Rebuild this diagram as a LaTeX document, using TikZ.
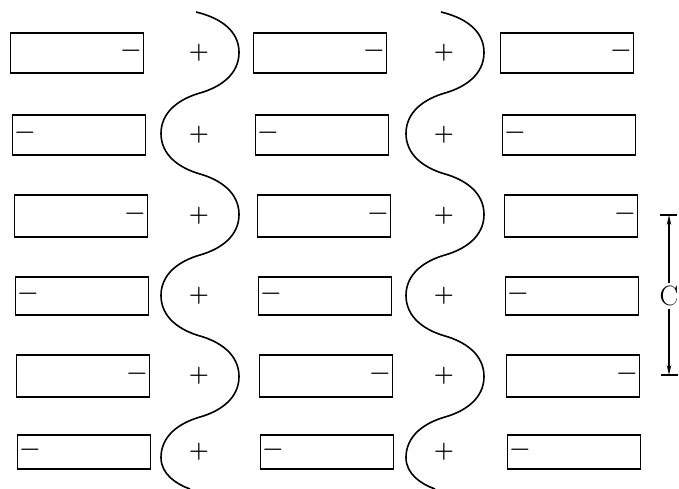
\documentclass[tikz,border=0pt]{standalone}
\usepackage{fontspec}
\usepackage{tikz}
\usetikzlibrary{positioning,arrows.meta}

\tikzset{
  plate/.style={draw, line width=1.5pt, minimum width=133pt, inner sep=0pt},
  sgn/.style={inner sep=0pt, font=\fontsize{23}{24}\selectfont\bfseries},
  pls/.style={inner sep=0pt, font=\fontsize{23}{26}\selectfont\bfseries},
  wave/.style={line width=1.6pt},
  dim/.style={line width=1.2pt},
}

\begin{document}
\begin{tikzpicture}[x=1pt, y=-1pt]
  \useasboundingbox (0,0) rectangle (679,489);
  \foreach \r/\y/\h/\d in {1/53/40/0, 2/135/40/2, 3/216/42/4, 4/296/38/5, 5/376/42/6, 6/452/34/7} {
    \foreach \c/\x in {1/77, 2/320, 3/567} {
      \node[plate, minimum height=\h pt] (b\r\c) at (\x+\d, \y) {};
      \ifodd\r
        \node[sgn, left=3pt of b\r\c.east] (m\r\c) {−};
      \else
        \node[sgn, right=3pt of b\r\c.west] (m\r\c) {−};
      \fi
    }
    \foreach \c/\x in {1/199, 2/444} {
      \node[pls] (p\r\c) at (\x, \y) {+};
    }
  }
  \foreach \cx in {200, 445} {
    \draw[wave] (\cx-4,12)
      \foreach \k [evaluate=\k as \s using {1-2*mod(\k,2)}] in {0,...,4} {
        .. controls (\cx+\s*21, 12+81*\k+6) and (\cx+\s*39, 12+81*\k+19) .. (\cx+\s*39, 12+81*\k+40.5)
        .. controls (\cx+\s*39, 12+81*\k+62) and (\cx+\s*21, 12+81*\k+75) .. (\cx, 12+81*\k+81)
      }
      .. controls (\cx-21, 423) and (\cx-39, 436) .. (\cx-39, 457.5)
      .. controls (\cx-39, 474) and (\cx-24, 484) .. (\cx-10, 489);
  }
  \coordinate (ctop) at (669,215);
  \coordinate (cbot) at (669,375);
  \node[inner sep=3pt, font=\fontsize{28}{30}\selectfont] (clab) at (669,296) {C};
  \draw[dim, -{Stealth[length=10pt, width=4.5pt]}] (clab) -- (ctop);
  \draw[dim, -{Stealth[length=10pt, width=4.5pt]}] (clab) -- (cbot);
  \draw[dim] ([xshift=-9pt]ctop) -- ([xshift=8pt]ctop);
  \draw[dim] ([xshift=-8pt]cbot) -- ([xshift=9pt]cbot);
\end{tikzpicture}
\end{document}
